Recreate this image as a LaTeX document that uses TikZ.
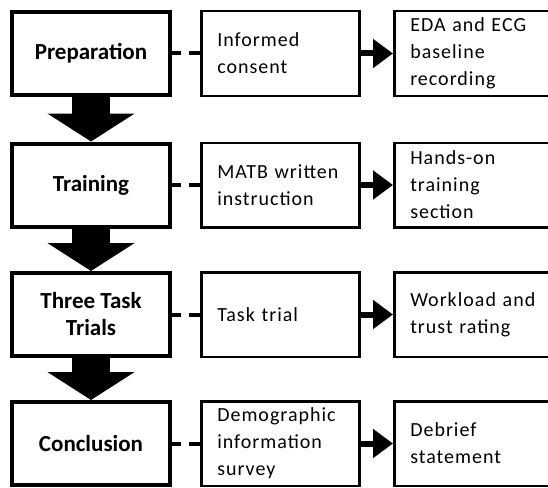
\documentclass[tikz,border=0pt]{standalone}
\usepackage{fontspec}
\setmainfont{Carlito}
\newfontfamily\spacedfont[LetterSpace=5]{Carlito}
\usetikzlibrary{positioning,arrows.meta}

\begin{document}
\begin{tikzpicture}[x=1pt,y=-1pt,
    phase/.style={draw, line width=4pt, minimum width=158pt, minimum height=83pt, align=center, font=\fontsize{23}{27}\selectfont\bfseries},
    step box/.style={draw, line width=2.5pt, minimum height=84.5pt, inner xsep=16pt, align=left, font=\spacedfont\fontsize{20}{27}\selectfont},
    dashlink/.style={line width=4pt, dash pattern=on 9pt off 8pt on 12pt off 1pt},
    sidearrow/.style={line width=6pt, -{Triangle[length=20pt,width=28pt]}},
    bigarrow/.style={line width=38pt, -{Triangle[length=28pt,width=86pt]}}]
    \useasboundingbox (0,0) rectangle (548,487);

    % Nodes
    \node[phase] (prep) at (91,53.5) {Preparation};
    \node[phase] (train) at (91,185) {Training};
    \node[phase] (trials) at (91,314.5) {Three Task\\Trials};
    \node[phase] (concl) at (91,443.5) {Conclusion};

    \node[step box, text width=126pt] (consent) at (280.25,53.5) {Informed\\consent};
    \node[step box, text width=126pt] (matb) at (280.25,185) {MATB written\\instruction};
    \node[step box, text width=126pt] (tasktrial) at (280.25,314.5) {Task trial};
    \node[step box, text width=126pt] (survey) at (280.25,443.5) {Demographic\\information\\survey};

    \node[step box, text width=140pt] (baseline) at (480.25,53.5) {EDA and ECG\\baseline\\recording};
    \node[step box, text width=140pt] (handson) at (480.25,185) {Hands-on\\training\\section};
    \node[step box, text width=140pt] (rating) at (480.25,314.5) {Workload and\\trust rating};
    \node[step box, text width=140pt] (debrief) at (480.25,443.5) {Debrief\\statement};

    % Arrows
    \draw[bigarrow] (prep) -- (train);
    \draw[bigarrow] (train) -- (trials);
    \draw[bigarrow] (trials) -- (concl);

    \draw[dashlink] (prep) -- (consent);
    \draw[dashlink] (train) -- (matb);
    \draw[dashlink] (trials) -- (tasktrial);
    \draw[dashlink] (concl) -- (survey);

    \draw[sidearrow] (consent) -- (baseline);
    \draw[sidearrow] (matb) -- (handson);
    \draw[sidearrow] (tasktrial) -- (rating);
    \draw[sidearrow] (survey) -- (debrief);
\end{tikzpicture}
\end{document}
